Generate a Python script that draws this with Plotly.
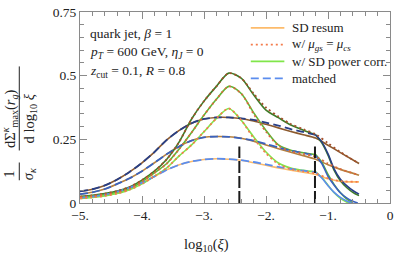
import plotly.graph_objects as go

# ---------------- data ----------------
XL = [-5.0, -4.8, -4.6, -4.4, -4.2, -4.0, -3.8, -3.6, -3.4, -3.2, -3.0,
      -2.8, -2.6, -2.4, -2.2, -2.0, -1.8, -1.6, -1.4, -1.2]
XR = [-1.0, -0.8, -0.5]

# matched (blue, dashed up to the second vertical line)
match1 = [0.046, 0.054, 0.069, 0.092, 0.122, 0.158, 0.200, 0.248, 0.285, 0.313, 0.330,
          0.336, 0.336, 0.332, 0.326, 0.316, 0.304, 0.290, 0.279, 0.267]
match2 = [0.035, 0.042, 0.055, 0.075, 0.097, 0.125, 0.158, 0.192, 0.222, 0.245, 0.258,
          0.261, 0.260, 0.254, 0.245, 0.232, 0.218, 0.206, 0.196, 0.186]
match3 = [0.020, 0.025, 0.033, 0.045, 0.060, 0.080, 0.104, 0.130, 0.150, 0.163, 0.171,
          0.174, 0.172, 0.168, 0.161, 0.152, 0.142, 0.134, 0.127, 0.121]
# matched, large-xi tails (solid)
tail_x1 = [-1.2, -1.1, -1.0, -0.9, -0.8, -0.7, -0.6, -0.5]
tail_m1 = [0.267, 0.240, 0.193, 0.133, 0.093, 0.068, 0.049, 0.035]
tail_x2 = [-1.2, -1.1, -1.0, -0.9, -0.8, -0.7, -0.6, -0.52]
tail_m2 = [0.186, 0.155, 0.105, 0.070, 0.040, 0.020, 0.007, 0.0]
tail_x3 = [-1.2, -1.1, -1.0, -0.9, -0.8, -0.7, -0.62]
tail_m3 = [0.121, 0.098, 0.068, 0.042, 0.022, 0.008, 0.0]

# SD resum (orange shades)
XS = XL + XR
sd1 = match1[:14] + [0.322, 0.309, 0.295, 0.281, 0.268, 0.255, 0.227, 0.198, 0.155]
sd2 = match2[:14] + [0.243, 0.228, 0.213, 0.199, 0.186, 0.172, 0.150, 0.132, 0.109]
sd3 = match3[:14] + [0.158, 0.148, 0.138, 0.129, 0.121, 0.112, 0.095, 0.085, 0.083]

# w/ SD power corrections (green shades)
pc1 = [0.025, 0.030, 0.037, 0.047, 0.063, 0.090, 0.125, 0.172, 0.240, 0.330, 0.400,
       0.458, 0.510, 0.490, 0.425, 0.365, 0.335, 0.306, 0.286, 0.268]
pc2 = [0.022, 0.027, 0.033, 0.042, 0.056, 0.084, 0.118, 0.155, 0.212, 0.277, 0.345,
       0.407, 0.458, 0.430, 0.355, 0.285, 0.228, 0.207, 0.197, 0.190]
pc3 = [0.018, 0.022, 0.028, 0.037, 0.052, 0.075, 0.105, 0.138, 0.185, 0.228, 0.280,
       0.332, 0.371, 0.325, 0.260, 0.200, 0.157, 0.137, 0.128, 0.122]
pc_tx1 = [-1.2, -1.1, -1.0, -0.9, -0.8, -0.7, -0.6, -0.5]
pc_t1 = [0.268, 0.236, 0.188, 0.128, 0.087, 0.061, 0.042, 0.029]
pc_tx2 = [-1.2, -1.1, -1.0, -0.9, -0.8, -0.7, -0.6]
pc_t2 = [0.190, 0.160, 0.112, 0.072, 0.040, 0.016, 0.0]
pc_tx3 = [-1.2, -1.1, -1.0, -0.9, -0.8, -0.7, -0.66]
pc_t3 = [0.122, 0.100, 0.070, 0.040, 0.018, 0.004, 0.0]

# w/ mu_gs = mu_cs (dotted)
mu1 = pc1[:14] + [0.430, 0.375, 0.340, 0.310, 0.290, 0.270, 0.235, 0.200, 0.155]
mu2 = pc2[:14] + [0.350, 0.280, 0.225, 0.203, 0.193, 0.182, 0.155, 0.133, 0.110]
mu3 = pc3[:14] + [0.255, 0.195, 0.153, 0.133, 0.124, 0.116, 0.097, 0.086, 0.083]

# vertical markers
vline_x = [-2.43, -1.21]
vline_top = 0.222

XTICKS = [-5, -4, -3, -2, -1, 0]
XTICKTEXT = ["\u22125.", "\u22124.", "\u22123.", "\u22122.", "\u22121.", "0"]
YTICKS = [0, 0.25, 0.5, 0.75]
YTICKTEXT = ["0", "0.25", "0.5", "0.75"]

LEGEND_NAMES = ["SD resum",
                "w/ <i>\u03bc</i><sub><i>gs</i></sub> = <i>\u03bc</i><sub><i>cs</i></sub>",
                "w/ SD power corr.",
                "matched"]

# ---------------- styles ----------------
C_SD = ["#8C5A2E", "#B5803F", "#FDBB6B"]
C_MU = ["#A4502C", "#D86A3C", "#F47C4C"]
C_PC = ["#3E7B27", "#5DB634", "#80E64A"]
C_MA = ["#283F86", "#3A62BE", "#5B8DEE"]
SERIF = "Liberation Serif"
DASH_MA = "8px,4px"
DASH_MU = "2px,3px"

fig = go.Figure()

def add(x, y, color, dash="solid", width=1.6):
    fig.add_trace(go.Scatter(
        x=x, y=y, mode="lines",
        line=dict(color=color, width=width, dash=dash, shape="spline", smoothing=0.8),
        showlegend=False, hoverinfo="skip"))

sds = [sd1, sd2, sd3]
pcs = [pc1, pc2, pc3]
pctx = [pc_tx1, pc_tx2, pc_tx3]
pct = [pc_t1, pc_t2, pc_t3]
mus = [mu1, mu2, mu3]
mas = [match1, match2, match3]
mtx = [tail_x1, tail_x2, tail_x3]
mty = [tail_m1, tail_m2, tail_m3]

for i in range(3):
    add(XS, sds[i], C_SD[i])
for i in range(3):
    add(XL, pcs[i], C_PC[i])
    add(pctx[i], pct[i], C_PC[i])
for i in range(3):
    add(XL, mas[i], C_MA[i], dash=DASH_MA, width=1.8)
    add(mtx[i], mty[i], C_MA[i], width=1.6)
for i in range(3):
    add(XS, mus[i], C_MU[i], dash=DASH_MU, width=1.8)

for vx in vline_x:
    fig.add_trace(go.Scatter(x=[vx, vx], y=[0, vline_top], mode="lines",
                             line=dict(color="#1a1a1a", width=2, dash="12px,3px"),
                             showlegend=False, hoverinfo="skip"))

frame = "#8a8a8a"
fig.update_layout(
    width=399, height=257,
    margin=dict(l=80, r=5, t=10, b=54),
    paper_bgcolor="white", plot_bgcolor="white",
    font=dict(family=SERIF, size=13, color="#222"),
    showlegend=False,
    xaxis=dict(range=[-5, 0], tickmode="array", tickvals=XTICKS, ticktext=XTICKTEXT,
               ticks="inside", ticklen=7, tickcolor=frame, tickwidth=1,
               minor=dict(dtick=0.2, tick0=0, ticks="inside", ticklen=4, tickcolor=frame, showgrid=False),
               showline=True, linecolor=frame, linewidth=1, mirror="ticks",
               showgrid=False, zeroline=False, tickfont=dict(family=SERIF, size=13.5, color="#222")),
    yaxis=dict(range=[0, 0.75], tickmode="array", tickvals=YTICKS, ticktext=YTICKTEXT,
               ticks="inside", ticklen=7, tickcolor=frame, tickwidth=1,
               minor=dict(dtick=0.05, tick0=0, ticks="inside", ticklen=4, tickcolor=frame, showgrid=False),
               showline=True, linecolor=frame, linewidth=1, mirror="ticks",
               showgrid=False, zeroline=False, tickfont=dict(family=SERIF, size=13.5, color="#222")),
    xaxis3=dict(overlaying="x", anchor="y", range=[-5, 0], tickmode="linear", tick0=0, dtick=0.5,
                showgrid=True, gridcolor="#e9e9e9", gridwidth=1, ticks="", showticklabels=False,
                showline=False, zeroline=False),
    yaxis3=dict(overlaying="y", anchor="x", range=[0, 0.75], tickmode="linear", tick0=0, dtick=0.125,
                showgrid=True, gridcolor="#e9e9e9", gridwidth=1, ticks="", showticklabels=False,
                showline=False, zeroline=False),
)

# ---- legend (drawn manually to match the compact Mathematica legend) ----
leg_colors = [C_SD[2], C_MU[2], C_PC[2], C_MA[2]]
leg_dash = ["solid", DASH_MU, "solid", DASH_MA]
leg_y = [0.917, 0.829, 0.741, 0.653]   # paper coords
lx0, lx1, ltx = (253 - 80) / 314, (287 - 80) / 314, (293 - 80) / 314
for name, col, dsh, yy in zip(LEGEND_NAMES, leg_colors, leg_dash, leg_y):
    fig.add_shape(type="line", xref="paper", yref="paper", x0=lx0, x1=lx1, y0=yy, y1=yy,
                  line=dict(color=col, width=1.8, dash=dsh))
    fig.add_annotation(x=ltx, y=yy, xref="paper", yref="paper", xanchor="left", yanchor="middle",
                       text=name, showarrow=False,
                       font=dict(family=SERIF, size=13, color="#222"))

ann_font = dict(family=SERIF, size=13.5, color="#222")
fig.add_annotation(x=0.025, y=0.886, xref="paper", yref="paper", xanchor="left", yanchor="middle",
                   text="quark jet, <i>\u03b2</i> = 1", showarrow=False, font=ann_font)
fig.add_annotation(x=0.025, y=0.790, xref="paper", yref="paper", xanchor="left", yanchor="middle",
                   text="<i>p<sub>T</sub></i> = 600 GeV, <i>\u03b7<sub>J</sub></i> = 0", showarrow=False, font=ann_font)
fig.add_annotation(x=0.025, y=0.689, xref="paper", yref="paper", xanchor="left", yanchor="middle",
                   text="<i>z</i><sub>cut</sub> = 0.1, <i>R</i> = 0.8", showarrow=False, font=ann_font)

# x axis title
fig.add_annotation(x=0.408, y=-0.218, xref="paper", yref="paper", xanchor="center", yanchor="middle",
                   text="log<sub>10</sub>(<i>\u03be</i>)", showarrow=False,
                   font=dict(family=SERIF, size=14.5, color="#222"))

# y axis title as two stacked fractions (numerator line / denominator line, rotated)
# (rotated rich text is rendered offset by about +21 px in x and -11 px in y; compensate)
yl_font = dict(family=SERIF, size=14.5, color="#222")
bar_x = (18.5 - 80) / 314
txt_x = (18.5 - 21 - 80) / 314
dy = 11 / 193
fig.add_annotation(x=txt_x, y=0.166 - dy, xref="paper", yref="paper",
                   text="1<br><i>\u03c3</i><sub><i>\u03ba</i></sub>", align="center",
                   textangle=-90, showarrow=False, font=yl_font)
fig.add_annotation(x=txt_x, y=0.497 - dy, xref="paper", yref="paper",
                   text="dΣ<sup><i>\u03ba</i></sup><sub>max</sub>(<i>r</i><sub><i>g</i></sub>)<br>d log<sub>10</sub> <i>\u03be</i>",
                   align="center", textangle=-90, showarrow=False, font=yl_font)
fig.add_shape(type="line", xref="paper", yref="paper", x0=bar_x, x1=bar_x, y0=0.119, y1=0.212,
              line=dict(color="#222", width=1))
fig.add_shape(type="line", xref="paper", yref="paper", x0=bar_x, x1=bar_x, y0=0.275, y1=0.715,
              line=dict(color="#222", width=1))

fig.write_html("out.html", config={"displayModeBar": False},
               post_script="document.body.style.margin='0';document.body.style.overflow='hidden';")
